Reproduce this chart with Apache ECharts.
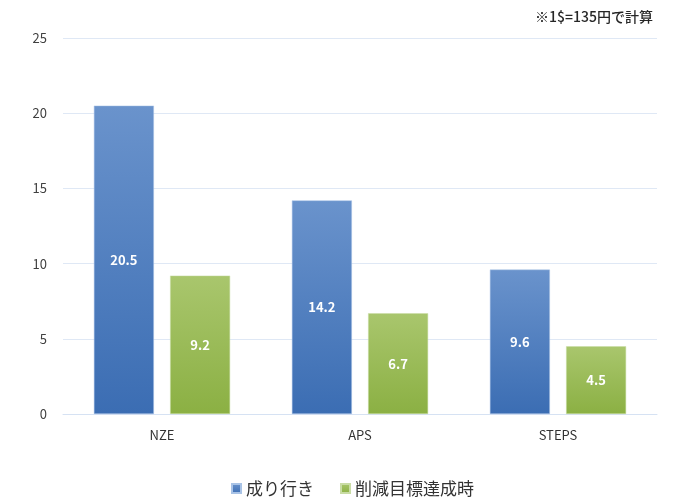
<!DOCTYPE html>
<html><head><meta charset="utf-8">
<script src="https://cdn.jsdelivr.net/npm/echarts@6/dist/echarts.min.js"></script>
<style>html,body{margin:0;padding:0;background:#fff}#c{width:680px;height:502px}</style>
</head><body><div id="c"></div>
<script>
const categories = ['NZE', 'APS', 'STEPS'];
const seriesNames = ['成り行き', '削減目標達成時'];
const bauValues = [20.5, 14.2, 9.6];
const targetValues = [9.2, 6.7, 4.5];
const yTicks = [0, 5, 10, 15, 20, 25];

const font = "'Noto Sans CJK JP', 'Noto Sans', sans-serif";
const chart = echarts.init(document.getElementById('c'));
function grad(top, bottom) {
  return new echarts.graphic.LinearGradient(0, 0, 0, 1, [{offset: 0, color: top}, {offset: 1, color: bottom}]);
}
const lbl = {show: true, position: 'inside', color: '#fff', fontWeight: 'bold', fontSize: 13, fontFamily: font};
chart.setOption({
  animation: false,
  title: {text: '※1$=135円で計算', right: 22, top: 5, textStyle: {fontSize: 14, fontWeight: 500, color: '#262626', fontFamily: font}},
  legend: {bottom: 0, left: 226, itemWidth: 9, itemHeight: 9, itemGap: 26, icon: 'rect',
    textStyle: {fontSize: 17, color: '#333', fontFamily: font}, data: seriesNames},
  grid: {left: 63, right: 23, top: 38, bottom: 88},
  xAxis: {type: 'category', data: categories,
    axisLine: {lineStyle: {color: '#d6e2f3'}}, axisTick: {show: false},
    axisLabel: {fontSize: 13, color: '#333', margin: 15, fontFamily: font}},
  yAxis: {type: 'value', min: yTicks[0], max: yTicks[yTicks.length - 1], interval: 5,
    axisLine: {show: false}, axisTick: {show: false},
    splitLine: {lineStyle: {color: '#dfe8f5'}},
    axisLabel: {fontSize: 13, color: '#404040', margin: 16, fontFamily: font}},
  series: [
    {name: seriesNames[0], type: 'bar', data: bauValues, barWidth: 60, barGap: '27%',
      itemStyle: {color: grad('#6a93cc', '#3b6db3'), borderColor: '#a9c3e6', borderWidth: 0.5}, label: lbl},
    {name: seriesNames[1], type: 'bar', data: targetValues, barWidth: 60,
      itemStyle: {color: grad('#a9c66d', '#8bb043'), borderColor: '#c9dca5', borderWidth: 0.5}, label: lbl}
  ],
  color: ['#4a7cc0', '#9bbb59']
});
</script></body></html>
